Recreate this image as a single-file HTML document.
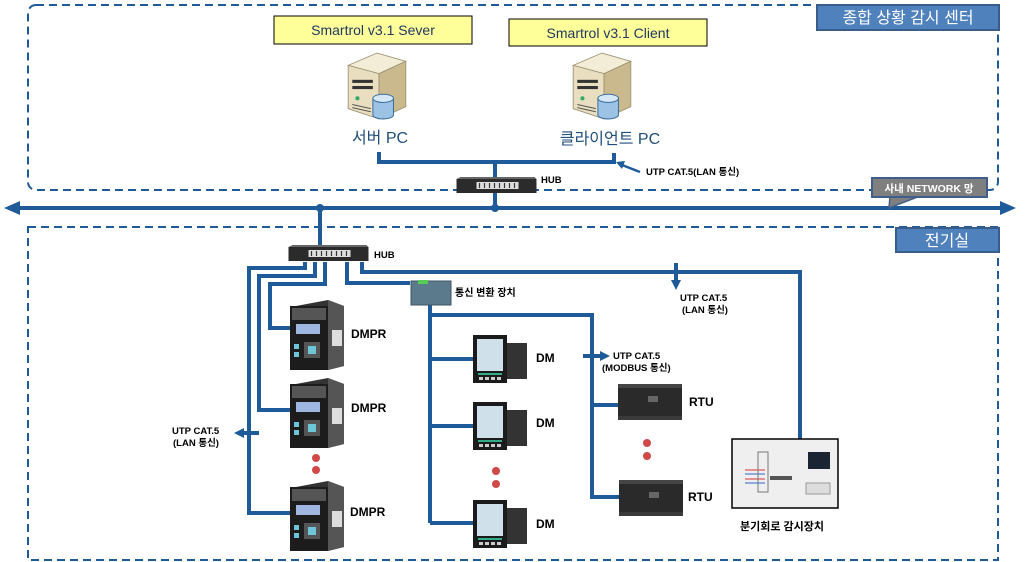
<!DOCTYPE html>
<html><head><meta charset="utf-8"><style>
html,body{margin:0;padding:0;background:#fff;}
svg{display:block;font-family:"Liberation Sans","Noto Sans CJK KR",sans-serif;}
</style></head><body>
<svg width="1027" height="562" viewBox="0 0 1027 562" xmlns="http://www.w3.org/2000/svg">
<defs>
<symbol id="srv" viewBox="0 0 60 68">
<polygon points="2,14 30,2 58,10 32,22" fill="#f3ecd6" stroke="#9a8f70" stroke-width="0.8"/>
<polygon points="2,14 32,22 32,66 2,56" fill="#e9dfc0" stroke="#9a8f70" stroke-width="0.8"/>
<polygon points="32,22 58,10 58,54 32,66" fill="#c9b98d" stroke="#9a8f70" stroke-width="0.8"/>
<rect x="6" y="28" width="20" height="3" fill="#333"/><rect x="6" y="34" width="20" height="3" fill="#333"/>
<circle cx="11" cy="46" r="2" fill="#3a6"/>
<line x1="6" y1="52" x2="24" y2="56" stroke="#555"/><line x1="6" y1="55" x2="24" y2="59" stroke="#555"/>
<path d="M26,46 v16 a10,4 0 0 0 20,0 v-16" fill="#9cc3e6" stroke="#3d6f9e"/>
<ellipse cx="36" cy="46" rx="10" ry="4" fill="#d6e7f5" stroke="#3d6f9e"/>
</symbol>
<symbol id="hub" viewBox="0 0 80 17">
<rect x="0" y="2" width="80" height="14" fill="#2b2b2b"/><polygon points="0,2 4,0 78,0 80,2" fill="#666"/>
<rect x="20" y="5" width="42" height="7" fill="#ddd"/>
<g stroke="#333" stroke-width="1.2"><line x1="23" y1="6" x2="23" y2="11"/><line x1="28" y1="6" x2="28" y2="11"/><line x1="33" y1="6" x2="33" y2="11"/><line x1="38" y1="6" x2="38" y2="11"/><line x1="43" y1="6" x2="43" y2="11"/><line x1="48" y1="6" x2="48" y2="11"/><line x1="53" y1="6" x2="53" y2="11"/><line x1="58" y1="6" x2="58" y2="11"/></g>
</symbol>
<symbol id="dmpr" viewBox="0 0 56 70">
<polygon points="8,6 40,0 56,6 56,66 40,70 8,70" fill="#333"/>
<polygon points="40,0 56,6 56,66 40,70" fill="#555"/>
<rect x="44" y="30" width="10" height="16" fill="#ddd"/>
<rect x="2" y="6" width="38" height="64" fill="#1c1c1c"/>
<rect x="4" y="8" width="34" height="12" fill="#555"/>
<rect x="8" y="24" width="24" height="10" fill="#9fb6e0"/>
<rect x="6" y="44" width="5" height="5" fill="#6cc6d8"/><rect x="6" y="52" width="5" height="5" fill="#6cc6d8"/>
<rect x="16" y="42" width="16" height="16" fill="#555"/><rect x="20" y="46" width="8" height="8" fill="#6cc6d8"/>
</symbol>
<symbol id="dm" viewBox="0 0 54 50">
<rect x="30" y="8" width="24" height="36" fill="#333"/>
<rect x="0" y="0" width="34" height="48" fill="#1b1b1b"/>
<rect x="4" y="4" width="26" height="32" fill="#cfe0ea"/>
<rect x="5" y="38" width="24" height="2" fill="#3a8"/>
<rect x="6" y="42" width="4" height="3" fill="#ccc"/><rect x="12" y="42" width="4" height="3" fill="#ccc"/><rect x="18" y="42" width="4" height="3" fill="#ccc"/><rect x="24" y="42" width="4" height="3" fill="#ccc"/>
</symbol>
<symbol id="rtu" viewBox="0 0 64 36">
<rect x="0" y="0" width="64" height="36" fill="#2a2a2a"/><rect x="0" y="0" width="64" height="4" fill="#444"/>
<rect x="0" y="32" width="64" height="4" fill="#3a3a3a"/><rect x="30" y="12" width="10" height="6" fill="#666"/>
</symbol>
</defs>

<rect x="28" y="5" width="970" height="185" rx="8" fill="none" stroke="#1f5b99" stroke-width="2" stroke-dasharray="8,5"/>
<rect x="817" y="5" width="182" height="25" fill="#4f81bd" stroke="#385d8a" stroke-width="2"/>
<text x="908" y="23" fill="#fff" font-size="16" text-anchor="middle">종합 상황 감시 센터</text>

<rect x="274" y="16" width="198" height="28" fill="#ffff99" stroke="#000" stroke-width="1"/>
<text x="373" y="35" fill="#1f3864" font-size="14" text-anchor="middle">Smartrol v3.1 Sever</text>
<rect x="509" y="19" width="198" height="27" fill="#ffff99" stroke="#000" stroke-width="1"/>
<text x="608" y="38" fill="#1f3864" font-size="14" text-anchor="middle">Smartrol v3.1 Client</text>

<use href="#srv" x="346" y="51" width="62" height="70"/>
<use href="#srv" x="571" y="51" width="62" height="70"/>
<text x="380" y="143" fill="#1f4e79" font-size="16" text-anchor="middle">서버 PC</text>
<text x="610" y="144" fill="#1f4e79" font-size="16" text-anchor="middle">클라이언트 PC</text>

<g stroke="#1f5b99" stroke-width="4" fill="none">
<polyline points="379,152 379,162 614,162 614,153"/>
<line x1="495" y1="162" x2="495" y2="210"/>
<line x1="16" y1="208" x2="1004" y2="208"/>
<line x1="320" y1="208" x2="320" y2="246"/>
</g>
<polygon points="4,208 20,201 20,215" fill="#1f5b99"/>
<polygon points="1016,208 1000,201 1000,215" fill="#1f5b99"/>
<circle cx="320" cy="208" r="4" fill="#1f5b99"/><circle cx="495" cy="208" r="4" fill="#1f5b99"/>
<line x1="640" y1="172" x2="622" y2="165" stroke="#1f5b99" stroke-width="2.5"/>
<polygon points="616,162 625,161 622,169" fill="#1f5b99"/>
<text x="646" y="175" font-size="9.5" font-weight="bold" fill="#000">UTP CAT.5(LAN 통신)</text>
<use href="#hub" x="456" y="177" width="81" height="17"/>
<text x="541" y="183" font-size="9.5" font-weight="bold">HUB</text>

<polygon points="890,196 889,208 920,196" fill="#7f7f7f" stroke="#3f5f8a" stroke-width="1.5"/>
<rect x="872" y="178" width="115" height="19" fill="#7f7f7f" stroke="#3f5f8a" stroke-width="2"/>
<text x="929" y="192" font-size="10.5" font-weight="bold" fill="#fff" text-anchor="middle">사내 NETWORK 망</text>

<rect x="28" y="227" width="970" height="333" fill="none" stroke="#1f5b99" stroke-width="2" stroke-dasharray="8,5"/>
<rect x="896" y="228" width="103" height="24" fill="#4f81bd" stroke="#385d8a" stroke-width="2"/>
<text x="947" y="246" fill="#fff" font-size="16" text-anchor="middle">전기실</text>

<g stroke="#1f5b99" stroke-width="4" fill="none">
<polyline points="305,262 305,268 249,268 249,513 290,513"/>
<polyline points="315,262 315,276 259,276 259,410 290,410"/>
<polyline points="325,262 325,284 270,284 270,328 290,328"/>
<polyline points="347,262 347,283 410,283"/>
<polyline points="362,262 362,272 800,272 800,462"/>
<line x1="676" y1="263" x2="676" y2="282"/>
<line x1="259" y1="433" x2="244" y2="433"/>
<line x1="430" y1="305" x2="430" y2="523"/>
<polyline points="430,315 592,315 592,497 620,497"/>
<line x1="430" y1="359" x2="474" y2="359"/>
<line x1="430" y1="426" x2="474" y2="426"/>
<line x1="430" y1="523" x2="474" y2="523"/>
<line x1="592" y1="405" x2="620" y2="405"/>
<line x1="583" y1="356" x2="601" y2="356"/>
</g>
<polygon points="676,290 671,280 681,280" fill="#1f5b99"/>
<polygon points="234,433 244,428 244,438" fill="#1f5b99"/>
<polygon points="610,356 600,351 600,361" fill="#1f5b99"/>

<use href="#hub" x="288" y="245" width="81" height="17"/>
<text x="374" y="258" font-size="9.5" font-weight="bold">HUB</text>
<rect x="411" y="281" width="40" height="24" fill="#5b7a8c" stroke="#3d5566"/>
<rect x="418" y="280" width="10" height="4" fill="#5c5"/>
<text x="455" y="296" font-size="10" font-weight="bold">통신 변환 장치</text>
<text x="680" y="301" font-size="9.5" font-weight="bold">UTP CAT.5</text>
<text x="682" y="313" font-size="9.5" font-weight="bold">(LAN 통신)</text>
<text x="172" y="434" font-size="9.5" font-weight="bold">UTP CAT.5</text>
<text x="173" y="446" font-size="9.5" font-weight="bold">(LAN 통신)</text>
<text x="613" y="359" font-size="9.5" font-weight="bold">UTP CAT.5</text>
<text x="602" y="371" font-size="9.5" font-weight="bold">(MODBUS 통신)</text>

<use href="#dmpr" x="288" y="300" width="56" height="70"/>
<use href="#dmpr" x="288" y="378" width="56" height="70"/>
<use href="#dmpr" x="288" y="481" width="56" height="70"/>
<g font-size="12" font-weight="bold">
<text x="351" y="338">DMPR</text><text x="351" y="412">DMPR</text><text x="350" y="516">DMPR</text>
<text x="536" y="362">DM</text><text x="536" y="427">DM</text><text x="536" y="528">DM</text>
<text x="689" y="406">RTU</text><text x="688" y="501">RTU</text>
</g>
<use href="#dm" x="473" y="335" width="54" height="50"/>
<use href="#dm" x="473" y="402" width="54" height="50"/>
<use href="#dm" x="473" y="500" width="54" height="50"/>
<use href="#rtu" x="618" y="384" width="64" height="36"/>
<use href="#rtu" x="619" y="480" width="64" height="36"/>
<g fill="#d04848">
<circle cx="316" cy="458" r="4"/><circle cx="316" cy="470" r="4"/>
<circle cx="496" cy="471" r="4"/><circle cx="496" cy="484" r="4"/>
<circle cx="647" cy="443" r="4"/><circle cx="647" cy="456" r="4"/>
</g>

<rect x="732" y="439" width="106" height="69" fill="#efefef" stroke="#000" stroke-width="1.5"/>
<rect x="808" y="452" width="22" height="17" fill="#1a2433"/>
<rect x="806" y="483" width="24" height="11" fill="#ddd" stroke="#999"/>
<rect x="770" y="476" width="22" height="4" fill="#555"/>
<g stroke-width="1"><line x1="745" y1="470" x2="765" y2="470" stroke="#d33"/><line x1="745" y1="474" x2="765" y2="474" stroke="#36c"/><line x1="745" y1="479" x2="765" y2="479" stroke="#d33"/><line x1="745" y1="483" x2="765" y2="483" stroke="#36c"/></g>
<rect x="758" y="452" width="10" height="40" fill="none" stroke="#777"/>
<text x="782" y="530" font-size="11" font-weight="bold" text-anchor="middle">분기회로 감시장치</text>
</svg>
</body></html>
